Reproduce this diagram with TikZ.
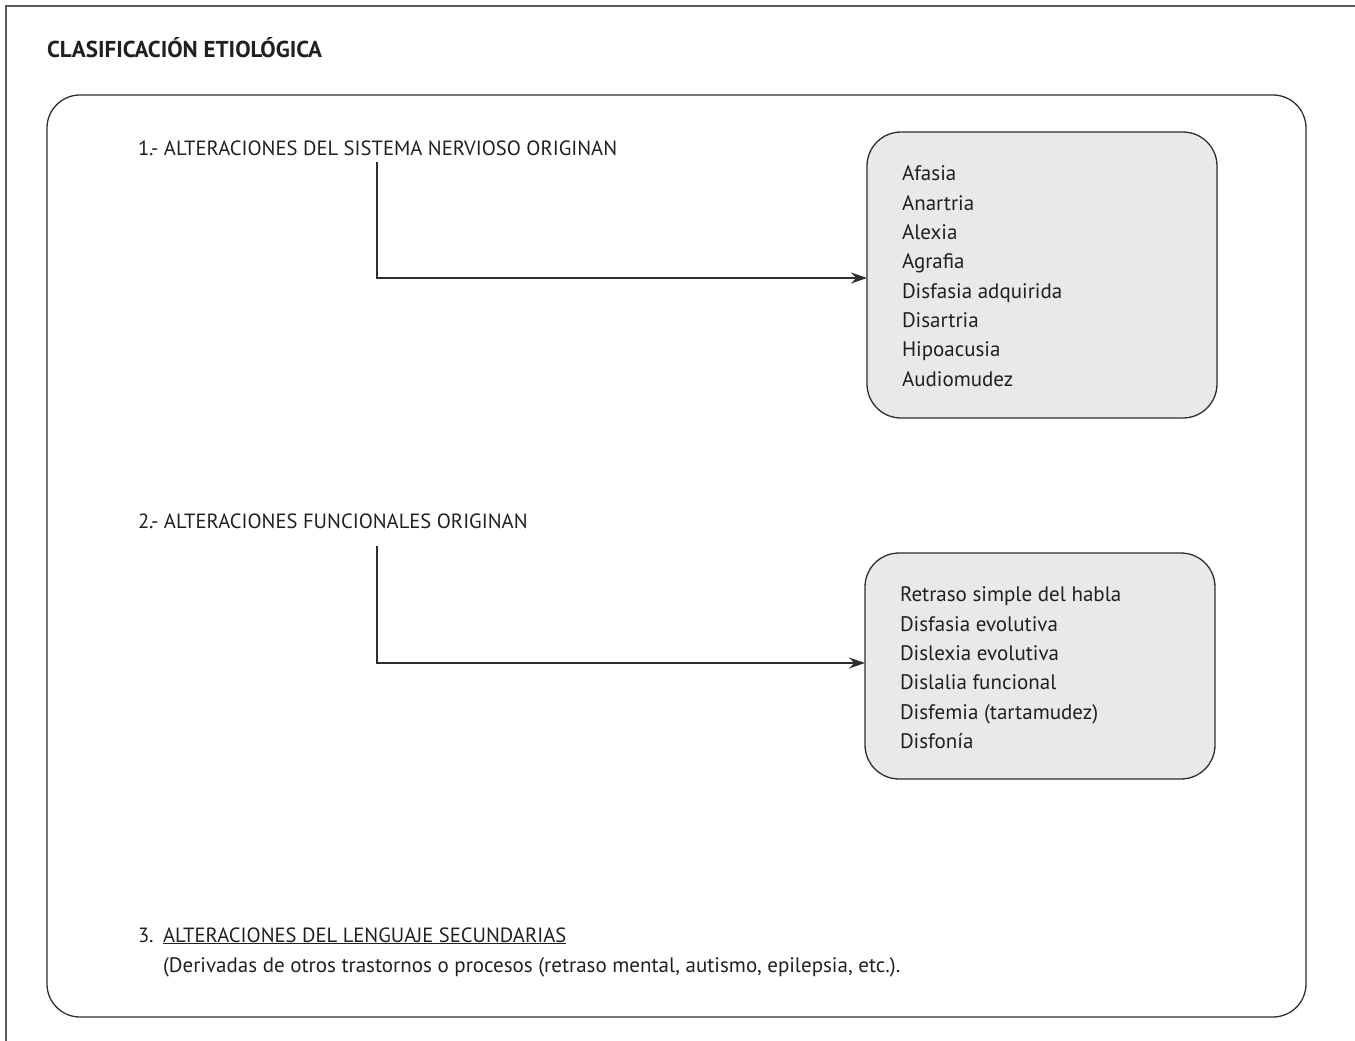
\documentclass[tikz,border=0pt]{standalone}
\usepackage{fontspec}
\setmainfont{PT Sans}
\usetikzlibrary{arrows.meta}

\definecolor{framegray}{HTML}{5A5A5A}
\definecolor{linegray}{HTML}{2E2E2E}
\definecolor{boxfill}{HTML}{E8E9EA}
\definecolor{txt}{HTML}{231F20}

\tikzset{
  every node/.style={inner sep=0pt, outer sep=0pt, text=txt},
  bodyfont/.style={font=\fontsize{21}{29.3}\selectfont},
  capsfont/.style={font=\fontsize{20.6}{29.3}\selectfont},
  listbox/.style={draw=linegray, line width=1.3pt, fill=boxfill,
    rounded corners=34pt, minimum width=350pt, minimum height=286pt, anchor=north west},
  heading/.style={capsfont, anchor=base west},
  itemlist/.style={bodyfont, align=left, anchor=north west},
  flow/.style={draw=linegray, line width=1.3pt, -{Stealth[length=16pt,width=11pt]}},
}

\begin{document}
\begin{tikzpicture}[x=1pt, y=-1pt]
  \useasboundingbox (0,0) rectangle (1355,1041);

  % page frame (only the top and left edges fall inside the page)
  \draw[framegray, line width=2pt] (1355,6) -- (6,6) -- (6,1041);

  % title
  \node[anchor=base west, font=\fontsize{23}{26}\selectfont\bfseries] (title) at (47,58) {CLASIFICACIÓN ETIOLÓGICA};

  % main rounded panel
  \draw[linegray, line width=1.3pt, rounded corners=33pt] (47,95) rectangle (1306,1017);

  % group 1
  \node[heading] (lab1) at (138,155) {1.- ALTERACIONES DEL SISTEMA NERVIOSO ORIGINAN};
  \node[listbox, minimum height=286pt] (box1) at (867,132) {};
  \node[itemlist] (list1) at (902,166) {Afasia\\Anartria\\Alexia\\Agrafia\\Disfasia adquirida\\Disartria\\Hipoacusia\\Audiomudez};
  \coordinate (s1) at (377,162);
  \draw[flow] (s1) |- ([yshift=-3pt]box1.west);

  % group 2
  \node[heading] (lab2) at (138,528) {2.- ALTERACIONES FUNCIONALES ORIGINAN};
  \node[listbox, minimum height=226pt] (box2) at (865,553) {};
  \node[itemlist] (list2) at (900,587) {Retraso simple del habla\\Disfasia evolutiva\\Dislexia evolutiva\\Dislalia funcional\\Disfemia (tartamudez)\\Disfonía};
  \coordinate (s2) at (377,546);
  \draw[flow] (s2) |- ([yshift=3pt]box2.west);

  % group 3
  \node[heading] (lab3num) at (138,942) {3.};
  \node[heading] (lab3) at (163,942) {\underline{ALTERACIONES DEL LENGUAJE SECUNDARIAS}};
  \node[heading, bodyfont] (lab3note) at (163,972) {(Derivadas de otros trastornos o procesos (retraso mental, autismo, epilepsia, etc.).};
\end{tikzpicture}
\end{document}
